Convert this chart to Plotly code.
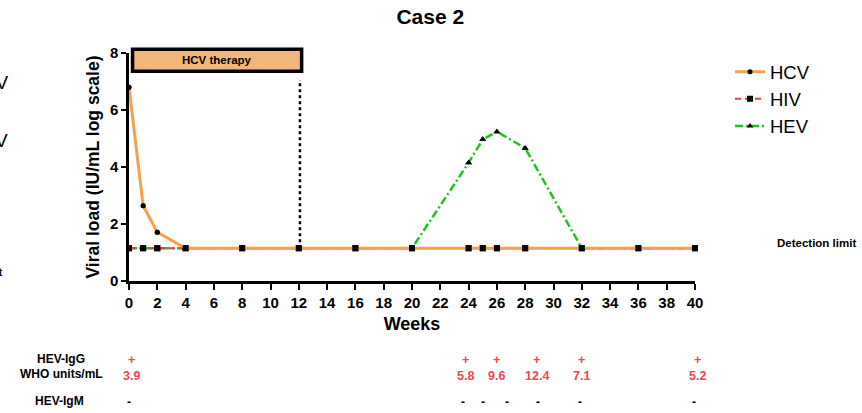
import plotly.graph_objects as go

# ---- data -------------------------------------------------------------
weeks = [0, 1, 2, 4, 8, 12, 16, 20, 24, 25, 26, 28, 32, 36, 40]
detection_limit = 1.15

hcv_load = [6.8, 2.64, 1.71, 1.15, 1.15, 1.15, 1.15, 1.15,
            1.15, 1.15, 1.15, 1.15, 1.15, 1.15, 1.15]
hiv_load = [1.15] * len(weeks)
hev_load = [1.15, 1.15, 1.15, 1.15, 1.15, 1.15, 1.15, 1.15,
            4.15, 4.97, 5.24, 4.66, 1.15, 1.15, 1.15]

hcv_marker_weeks = [0, 1, 2]
hcv_marker_load = [6.8, 2.64, 1.71]
hev_marker_weeks = [24, 25, 26, 28]
hev_marker_load = [4.15, 4.97, 5.24, 4.66]

therapy_start, therapy_end = 0.25, 12.2
therapy_label = "HCV therapy"

x_ticks = list(range(0, 41, 2))
y_ticks = [0, 2, 4, 6, 8]

igg_weeks = [0.2, 23.8, 26.0, 28.8, 32.0, 40.2]
igg_values = ["3.9", "5.8", "9.6", "12.4", "7.1", "5.2"]
igm_weeks = [0, 23.6, 25.0, 26.7, 28.9, 31.9, 39.9]

X_MAX = 40

# ---- styling ----------------------------------------------------------
FONT = "Arial, Liberation Sans, Helvetica, sans-serif"
ORANGE = "#F6A04D"
RED = "#EE3B3B"
GREEN = "#22C21E"
LABEL_RED = "#F0474C"

W, H = 862, 413
L, R, T, B = 129, 167, 52.7, 132
PLOT_H = H - T - B


def py(pixel_y):
    """Convert a pixel row to paper coordinates."""
    return (H - B - pixel_y) / PLOT_H


def px(pixel_x):
    return (pixel_x - L) / (W - L - R)


def text(x, y, s, size, color="black", bold=True, xref="paper",
         xanchor="center"):
    return dict(x=x, y=y, xref=xref, yref="paper", text=s, showarrow=False,
                xanchor=xanchor, yanchor="middle",
                font=dict(family=FONT, size=size, color=color,
                          weight="bold" if bold else "normal"))


fig = go.Figure()

# lines (legend entries); HEV under HIV, HCV on top
fig.add_trace(go.Scatter(
    x=weeks, y=hev_load, name="HEV", mode="lines+markers", legendrank=3,
    line=dict(color=GREEN, width=2.5, dash="8px,3px,2px,3px"),
    marker=dict(symbol="triangle-up", size=6, color="black"), cliponaxis=False))
fig.add_trace(go.Scatter(
    x=weeks, y=hiv_load, name="HIV", mode="lines+markers", legendrank=2,
    line=dict(color=RED, width=2, dash="6px,4px"),
    marker=dict(symbol="square", size=6, color="black"), cliponaxis=False))
fig.add_trace(go.Scatter(
    x=weeks, y=hcv_load, name="HCV", mode="lines+markers", legendrank=1,
    line=dict(color=ORANGE, width=3),
    marker=dict(symbol="circle", size=5, color="black"), cliponaxis=False))

# markers on top of all lines
fig.add_trace(go.Scatter(
    x=hev_marker_weeks, y=hev_marker_load, mode="markers", showlegend=False,
    marker=dict(symbol="triangle-up", size=6, color="black"), cliponaxis=False))
fig.add_trace(go.Scatter(
    x=hcv_marker_weeks, y=hcv_marker_load, mode="markers", showlegend=False,
    marker=dict(symbol="circle", size=5, color="black"), cliponaxis=False))
fig.add_trace(go.Scatter(
    x=weeks, y=hiv_load, mode="markers", showlegend=False,
    marker=dict(symbol="square", size=6, color="black"), cliponaxis=False))

# therapy bar and end-of-therapy marker
fig.add_shape(type="rect", xref="x", yref="paper",
              x0=therapy_start, x1=therapy_end, y0=py(71), y1=py(49),
              fillcolor="#F2B679", line=dict(color="black", width=3.5),
              layer="above")
fig.add_shape(type="line", xref="x", yref="y",
              x0=therapy_end - 0.12, x1=therapy_end - 0.12,
              y0=detection_limit, y1=7.05,
              line=dict(color="black", width=2.5, dash="dot"))

annotations = [
    text((therapy_start + therapy_end) / 2, py(60), therapy_label, 11.5,
         xref="x"),
    text(px(775), py(243.3), "Detection limit", 11.5, xanchor="left"),
    text(px(61), py(359), "HEV-IgG", 12),
    text(px(61), py(374), "WHO units/mL", 12),
    text(px(59), py(401.5), "HEV-IgM", 12),
    # clipped text from the neighbouring panel
    text(px(10), py(82), "HCV", 19, bold=False, xanchor="right"),
    text(px(10), py(140), "HIV", 19, bold=False, xanchor="right"),
    text(px(3.5), py(272), "Detection limit", 11.5, xanchor="right"),
]

for wk, val in zip(igg_weeks, igg_values):
    annotations.append(text(wk / X_MAX, py(360.5), "+", 12.5, LABEL_RED))
    annotations.append(text(wk / X_MAX, py(376), val, 12.5, LABEL_RED))
for wk in igm_weeks:
    annotations.append(text(wk / X_MAX, py(402), "-", 12))

fig.update_layout(
    width=W, height=H,
    margin=dict(l=L, r=R, t=T, b=B, pad=0),
    paper_bgcolor="white", plot_bgcolor="white",
    font=dict(family=FONT, color="black"),
    title=dict(text="Case 2", x=px(411.5), xanchor="center",
               y=1 - 17 / H, yanchor="middle",
               font=dict(family=FONT, size=21, color="black", weight="bold")),
    showlegend=True,
    legend=dict(x=px(730), y=py(53), xanchor="left", yanchor="top",
                font=dict(family=FONT, size=18.5, color="black"),
                bgcolor="rgba(0,0,0,0)", borderwidth=0,
                traceorder="normal", itemwidth=30),
    annotations=annotations,
)

fig.update_xaxes(
    range=[0, X_MAX], tickvals=x_ticks, ticktext=[str(t) for t in x_ticks],
    showline=True, linecolor="black", linewidth=2.5,
    ticks="outside", ticklen=6, tickwidth=2, tickcolor="black",
    showgrid=False, zeroline=False,
    tickfont=dict(family=FONT, size=15, color="black", weight="bold"),
    title=dict(text="Weeks", standoff=8,
               font=dict(family=FONT, size=18, color="black", weight="bold")),
)
fig.update_yaxes(
    range=[0, 8], tickvals=y_ticks,
    showline=True, linecolor="black", linewidth=2.5,
    ticks="outside", ticklen=5, tickwidth=2, tickcolor="black",
    showgrid=False, zeroline=False,
    tickfont=dict(family=FONT, size=15, color="black", weight="bold"),
    title=dict(text="Viral load (IU/mL log scale)", standoff=6,
               font=dict(family=FONT, size=17.5, color="black", weight="bold")),
)

fig.write_html("out.html")
